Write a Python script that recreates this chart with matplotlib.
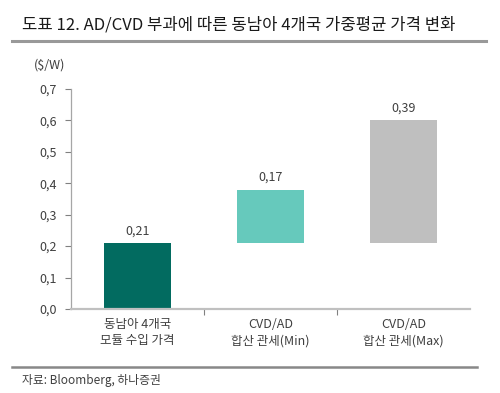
import matplotlib
matplotlib.use('Agg')
import matplotlib.pyplot as plt
from matplotlib.lines import Line2D

plt.rcParams['font.family'] = ['Noto Sans CJK KR', 'DejaVu Sans']

categories = ['동남아 4개국\n모듈 수입 가격', 'CVD/AD\n합산 관세(Min)', 'CVD/AD\n합산 관세(Max)']
base = [0.0, 0.21, 0.21]
values = [0.21, 0.17, 0.39]
labels = ['0,21', '0,17', '0,39']
colors = ['#026b60', '#66c9bc', '#bfbfbf']
yticks = [0.0, 0.1, 0.2, 0.3, 0.4, 0.5, 0.6, 0.7]

fig = plt.figure(figsize=(5, 3.93), dpi=100)
ax = fig.add_axes([0.142, 0.2137, 0.798, 0.56])

x = range(len(categories))
ax.bar(x, values, bottom=base, width=0.51, color=colors, zorder=2)
for i in x:
    ax.text(i, base[i] + values[i] + 0.018, labels[i], ha='center', va='bottom',
            fontsize=9, color='#404040')

ax.set_xlim(-0.5, 2.5)
ax.set_ylim(0, 0.7)
ax.set_yticks(yticks)
ax.set_yticklabels([('%.1f' % v).replace('.', ',') for v in yticks], fontsize=9, color='#404040')
ax.set_xticks([0.5, 1.5])
ax.set_xticklabels([])
ax.tick_params(axis='x', length=4, color='#808080', width=0.8)
ax.tick_params(axis='y', length=4, color='#808080', width=0.8, pad=6)
for i, c in enumerate(categories):
    ax.text(i, -0.04, c, ha='center', va='top', fontsize=9, color='#404040',
            linespacing=1.35, transform=ax.get_xaxis_transform())

for s in ['top', 'right']:
    ax.spines[s].set_visible(False)
ax.spines['left'].set_color('#a6a6a6')
ax.spines['left'].set_linewidth(0.9)
ax.spines['bottom'].set_color('#c0c0c0')
ax.spines['bottom'].set_linewidth(1.6)

fig.text(0.068, 0.835, '($/W)', fontsize=9, color='#404040', va='center')

fig.text(0.044, 0.937, '도표 12. AD/CVD 부과에 따른 동남아 4개국 가중평균 가격 변화',
         fontsize=12, fontweight='medium', color='#1a1a1a', va='center')
fig.add_artist(Line2D([0.024, 0.972], [0.896, 0.896], color='#999999', linewidth=2.2))
fig.add_artist(Line2D([0.024, 0.954], [0.066, 0.066], color='#888888', linewidth=1.8))
fig.text(0.044, 0.032, '자료: Bloomberg, 하나증권', fontsize=8.5, color='#404040', va='center')

fig.savefig('out.png', dpi=100)
